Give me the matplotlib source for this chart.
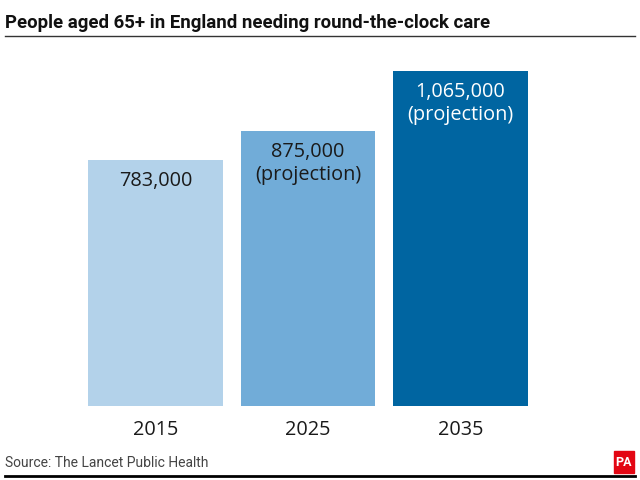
import matplotlib
matplotlib.use("Agg")
import matplotlib.pyplot as plt
from matplotlib.patches import Rectangle
from matplotlib.lines import Line2D

# Dados
anos = ['2015', '2025', '2035']
valores = [783000, 875000, 1065000]
rotulos = ['783,000', '875,000', '1,065,000']
notas = ['', '(projection)', '(projection)']

cores = ['#b3d2ea', '#71acd8', '#0065a1']
cores_texto = ['#1a1a1a', '#1a1a1a', 'white']

titulo = 'People aged 65+ in England needing round-the-clock care'
fonte = 'Source: The Lancet Public Health'

plt.rcParams['font.family'] = ['Open Sans', 'DejaVu Sans']

fig = plt.figure(figsize=(6.4, 4.8), dpi=100)

# Eixo posicionado para bater com as barras da referência
ax = fig.add_axes([79.25 / 640, 74 / 480, 457.5 / 640, 335 / 480])
x = range(len(anos))
ax.bar(x, valores, width=0.885, color=cores)
ax.set_xlim(-0.5, 2.5)
ax.set_ylim(0, max(valores))

for i, v in enumerate(valores):
    ax.annotate(rotulos[i], xy=(i, v), xytext=(0, -15), textcoords='offset points',
                ha='center', va='center', fontsize=14.3, color=cores_texto[i])
    if notas[i]:
        ax.annotate(notas[i], xy=(i, v), xytext=(0, -31.5), textcoords='offset points',
                    ha='center', va='center', fontsize=14.3, color=cores_texto[i])

ax.set_xticks(list(x))
ax.set_xticklabels(anos, fontsize=14.3, color='#1a1a1a')
ax.tick_params(axis='x', length=0, pad=10)
ax.set_yticks([])
for s in ax.spines.values():
    s.set_visible(False)

# Título e linha abaixo dele
fig.text(5 / 640, 1 - 28 / 480, titulo, fontsize=13.4, fontweight='bold',
         family=['Roboto', 'DejaVu Sans'], va='baseline', ha='left', color='#111111')
fig.add_artist(Line2D([5 / 640, 635 / 640], [1 - 36 / 480, 1 - 36 / 480], color='#333333', lw=1))

# Rodapé
fig.text(5 / 640, 1 - 463 / 480, fonte, fontsize=10, color='#444444',
         family=['Roboto', 'DejaVu Sans'], va='center', ha='left')
fig.add_artist(Line2D([5 / 640, 635 / 640], [1 - 476 / 480, 1 - 476 / 480], color='black', lw=2))

# Logo PA
fig.add_artist(Rectangle((614 / 640, 1 - 473 / 480), 20 / 640, 22 / 480,
                         transform=fig.transFigure, color='#e30613'))
fig.text(624 / 640, 1 - 462 / 480, 'PA', fontsize=9, fontweight='bold', color='white',
         family=['Roboto', 'DejaVu Sans'], ha='center', va='center')

fig.savefig('out.png', dpi=100)
